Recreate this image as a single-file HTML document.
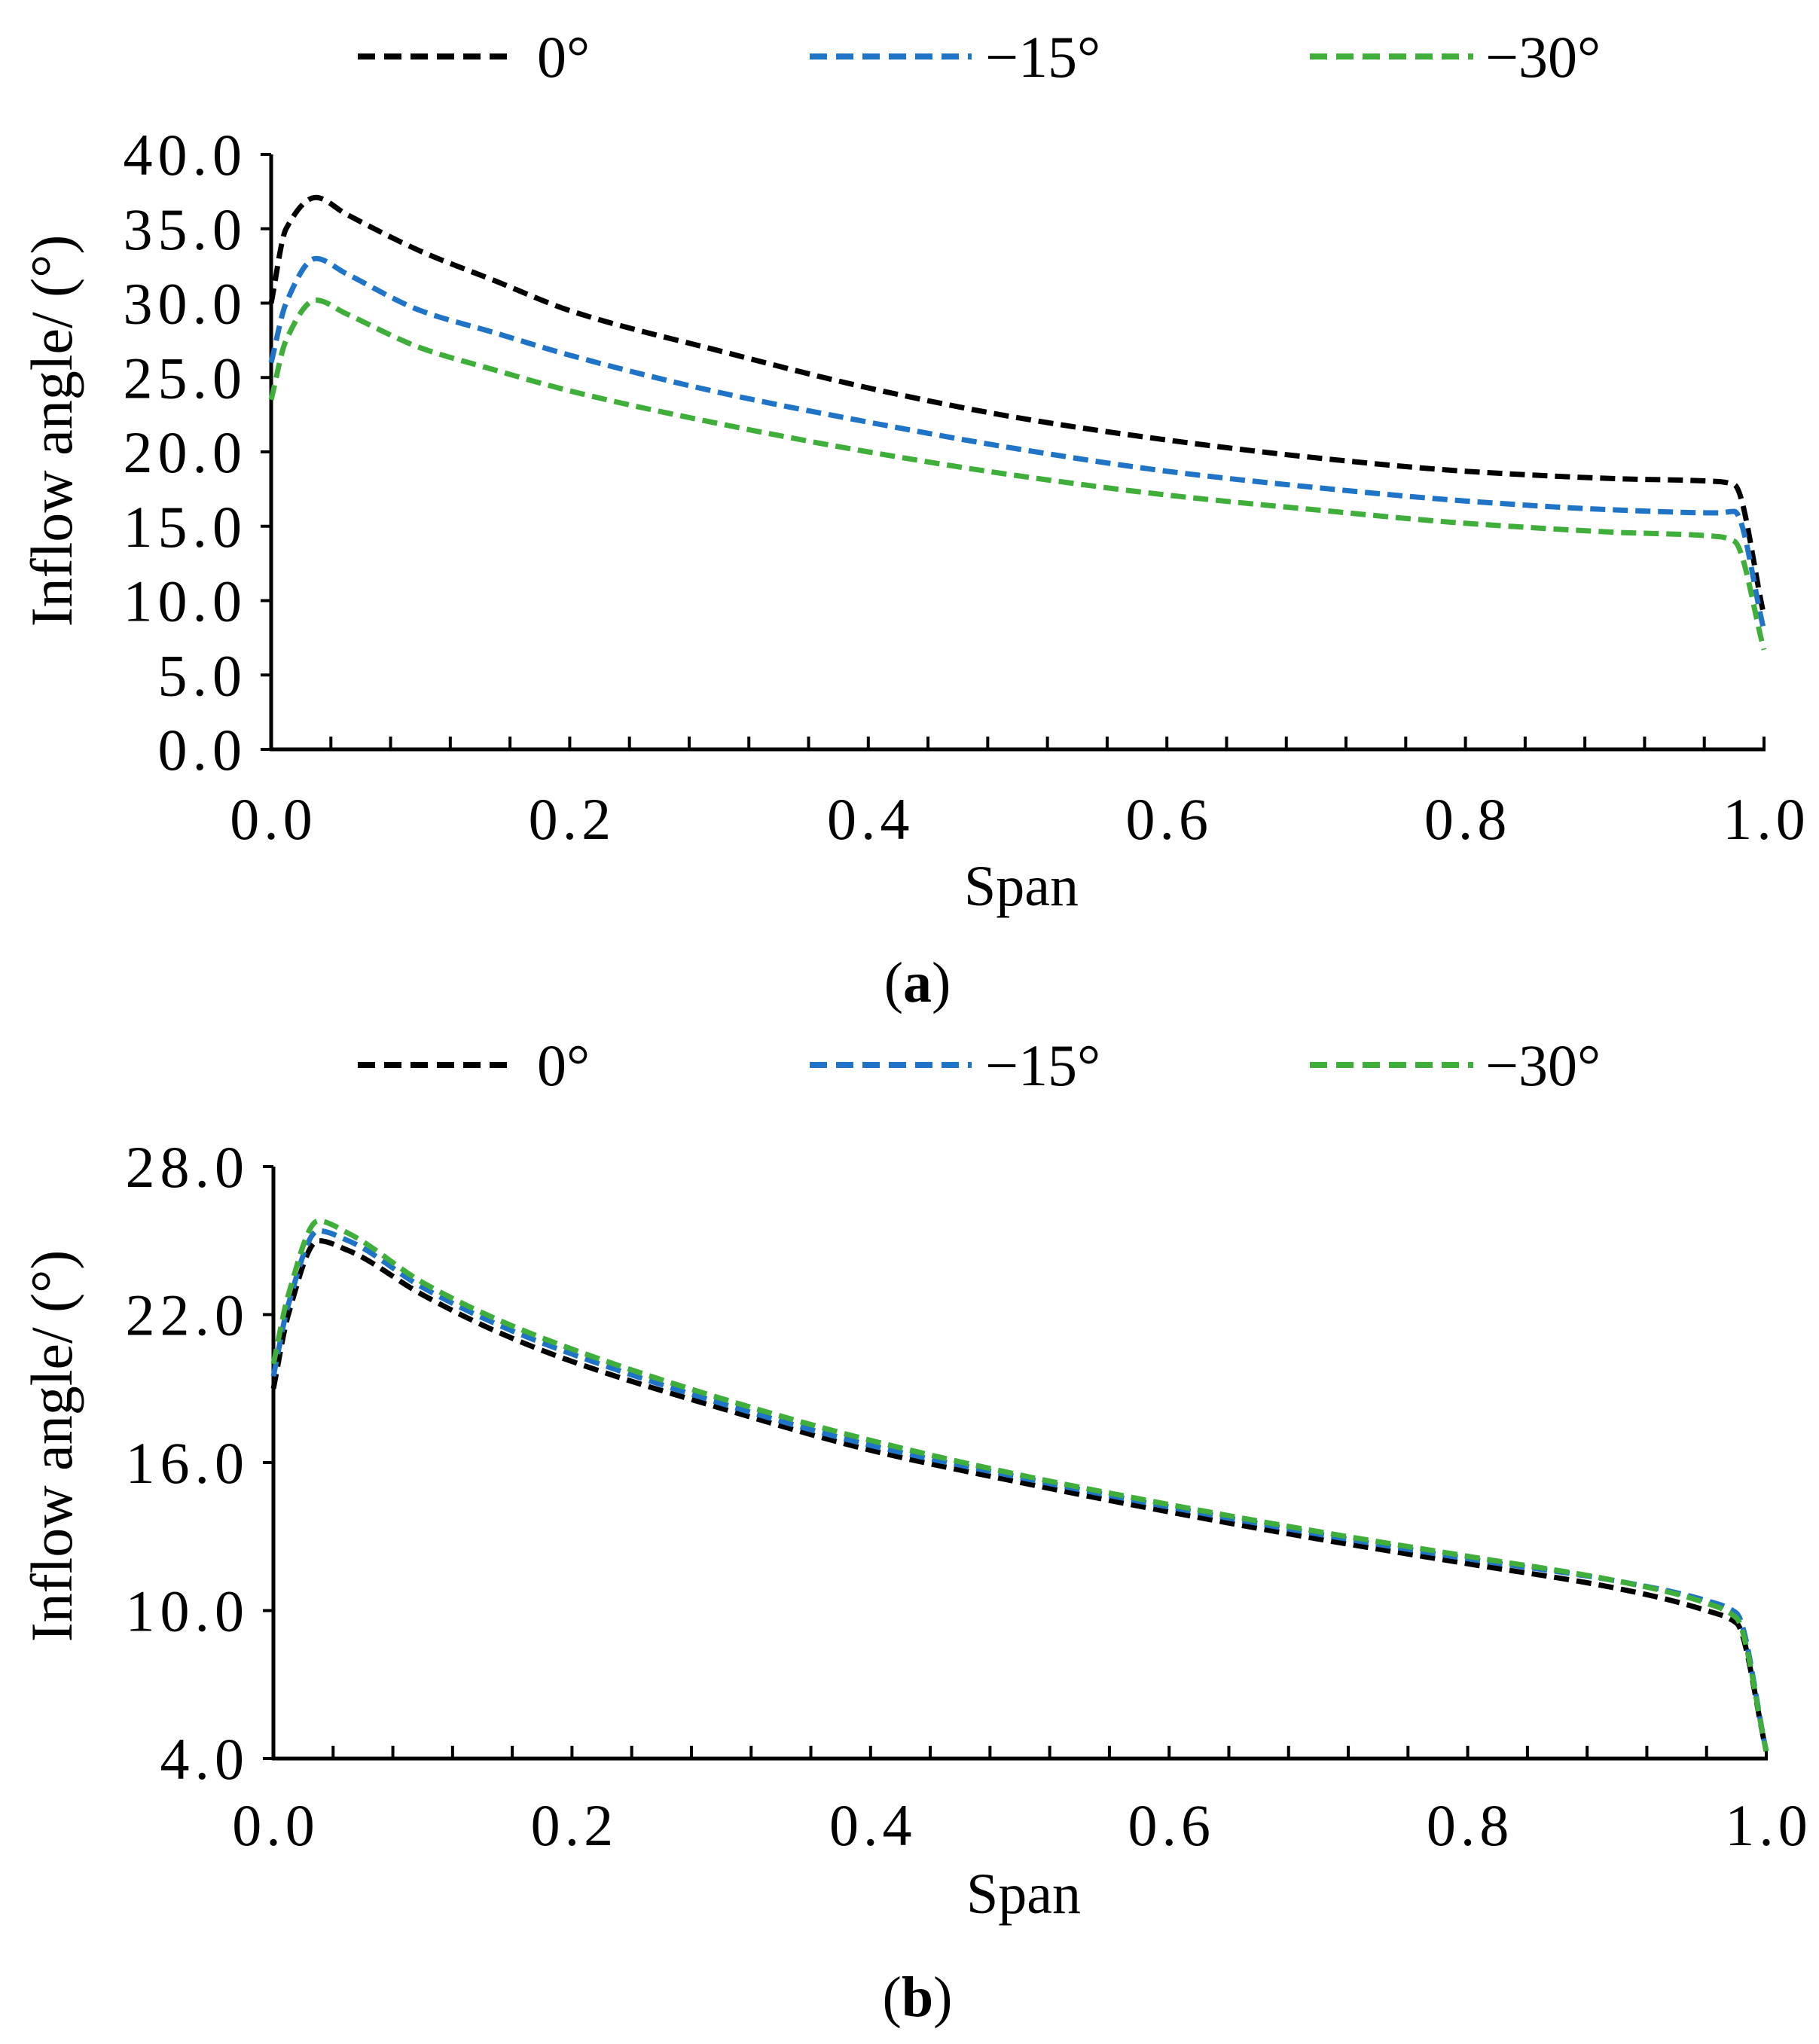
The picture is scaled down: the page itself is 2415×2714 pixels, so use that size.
<!DOCTYPE html>
<html><head><meta charset="utf-8"><style>
html,body{margin:0;padding:0;background:#fff;}
svg text{font-family:"Liberation Serif",serif;fill:#000;}
</style></head><body>
<svg id="chart" width="2415" height="2709" viewBox="0 0 2415 2709" xmlns="http://www.w3.org/2000/svg"></svg>
<script>
const spanX = [0,0.01,0.03,0.05,0.1,0.15,0.2,0.3,0.4,0.5,0.6,0.7,0.8,0.9,0.97,0.98,1.0];
const topBlack = [30,35,37.1,36,33.5,31.5,29.5,26.8,24.3,22.3,20.8,19.6,18.7,18.2,18,17.8,9];
const topBlue  = [26,30,33,32,29.5,28,26.5,24,22,20.2,18.7,17.6,16.7,16.1,15.9,16,8];
const topGreen = [23.5,27.5,30.2,29.3,27,25.5,24.1,21.9,20,18.4,17.1,16.1,15.2,14.6,14.3,14,6.7];
const botX = [0,0.01,0.03,0.05,0.1,0.15,0.2,0.3,0.4,0.5,0.6,0.7,0.8,0.9,0.96,0.98,1.0];
const botBlack = [19,22,25,24.6,22.8,21.3,20.1,18.2,16.5,15.2,14,12.9,11.9,10.9,10,9.5,4.3];
const botBlue  = [19.5,22.4,25.4,25,23.1,21.6,20.4,18.4,16.7,15.4,14.2,13.1,12.1,11.2,10.4,9.9,4.3];
const botGreen = [20,22.8,25.8,25.3,23.3,21.8,20.6,18.6,16.9,15.5,14.3,13.2,12.2,11.2,10.3,9.7,4.3];
const topYTicks = ["0.0","5.0","10.0","15.0","20.0","25.0","30.0","35.0","40.0"];
const botYTicks = ["4.0","10.0","16.0","22.0","28.0"];
const xTicks = ["0.0","0.2","0.4","0.6","0.8","1.0"];
const seriesNames = ["0°","−15°","−30°"];
const colors = ["#000000","#1f74c8","#3fae3a"];

const NS="http://www.w3.org/2000/svg";
const svg=document.getElementById('chart');
function mk(tag,attrs,parent,name,inter){const e=document.createElementNS(NS,tag);for(const k in attrs)e.setAttribute(k,attrs[k]);


(parent||svg).appendChild(e);return e;}

// monotone cubic (Fritsch-Carlson) path
function monoPath(pts){
  const n=pts.length, dx=[], m=[], tg=new Array(n);
  for(let i=0;i<n-1;i++){dx[i]=pts[i+1][0]-pts[i][0];m[i]=(pts[i+1][1]-pts[i][1])/dx[i];}
  tg[0]=m[0];tg[n-1]=m[n-2];
  for(let i=1;i<n-1;i++){ if(m[i-1]*m[i]<=0) tg[i]=0; else { tg[i]=3*(dx[i-1]+dx[i])/((2*dx[i]+dx[i-1])/m[i-1]+(dx[i]+2*dx[i-1])/m[i]); } }
  let d='M'+pts[0][0].toFixed(1)+','+pts[0][1].toFixed(1);
  for(let i=0;i<n-1;i++){
    const h=dx[i]/3;
    d+=' C'+(pts[i][0]+h).toFixed(1)+','+(pts[i][1]+tg[i]*h).toFixed(1)+' '+(pts[i+1][0]-h).toFixed(1)+','+(pts[i+1][1]-tg[i+1]*h).toFixed(1)+' '+pts[i+1][0].toFixed(1)+','+pts[i+1][1].toFixed(1);
  }
  return d;
}

function panel(cfg){
  const g=mk('g',{},svg,cfg.name,false);
  const x0=cfg.x0,x1=cfg.x1,yT=cfg.yTop,yB=cfg.yBot;
  const ymin=cfg.ymin,ymax=cfg.ymax;
  const sx=v=>x0+(v)*(x1-x0);
  const sy=v=>yB-(v-ymin)/(ymax-ymin)*(yB-yT);
  const leg=mk('g',{},g,'legend',false);
  const lx=[[475,682,713],[1075,1290,1308],[1739,1956,1972]];
  for(let i=0;i<3;i++){
    mk('line',{x1:lx[i][0],x2:lx[i][1],y1:cfg.legY,y2:cfg.legY,stroke:colors[i],'stroke-width':8,'stroke-dasharray':'23 12'},leg,'legend-swatch-'+i,false);
    const t=mk('text',{x:lx[i][2],y:cfg.legY+27,'font-size':78},leg,'legend-label-'+i,false);t.textContent=seriesNames[i];
  }
  mk('line',{x1:x0,x2:x0,y1:yT,y2:yB,stroke:'#000','stroke-width':5},g,'y-axis',false);
  mk('line',{x1:x0-2,x2:x1+2,y1:yB,y2:yB,stroke:'#000','stroke-width':5},g,'x-axis',false);
  cfg.yTicks.forEach(s=>{const v=parseFloat(s),y=sy(v);
    mk('line',{x1:x0-14,x2:x0,y1:y,y2:y,stroke:'#000','stroke-width':4},g,'y-tick',false);
    const t=mk('text',{x:x0-32,y:y+27,'font-size':78,'text-anchor':'end','letter-spacing':7},g,'y-tick-label',false);t.textContent=s;});
  for(let i=1;i<=25;i++){const x=sx(i/25);
    mk('line',{x1:x,x2:x,y1:yB,y2:yB-17,stroke:'#000','stroke-width':4},g,'x-minor-tick',false);}
  xTicks.forEach(s=>{const t=mk('text',{x:sx(parseFloat(s))+3,y:cfg.xLabY,'font-size':78,'text-anchor':'middle','letter-spacing':6},g,'x-tick-label',false);t.textContent=s;});
  const xt=mk('text',{x:(x0+x1)/2+5,y:cfg.xTitleY,'font-size':76,'text-anchor':'middle'},g,'x-axis-title',false);xt.textContent='Span';
  const yt=mk('text',{x:0,y:0,'font-size':78,'text-anchor':'middle','transform':`translate(95,${cfg.yTitleC}) rotate(-90)`},g,'y-axis-title',false);yt.textContent='Inflow angle/ (°)';
  const cap=mk('text',{x:1218,y:cfg.capY,'font-size':76,'text-anchor':'middle'},g,'panel-caption',false);
  cap.innerHTML='(<tspan font-weight="bold">'+cfg.cap+'</tspan>)';
  cfg.series.forEach((arr,i)=>{
    const pts=arr.map((v,j)=>[sx(cfg.xs[j]),sy(v)]);
    mk('path',{d:monoPath(pts),fill:'none',stroke:colors[i],'stroke-width':7,'stroke-dasharray':'20 10','stroke-linejoin':'round'},g,'series-'+['0deg','m15deg','m30deg'][i],false);
  });
}
panel({name:'panel-a',x0:360,x1:2342,yTop:205,yBot:995,ymin:0,ymax:40,yTicks:topYTicks,legY:75,xLabY:1114,xTitleY:1202,yTitleC:572,capY:1330,cap:'a',xs:spanX,series:[topBlack,topBlue,topGreen]});
panel({name:'panel-b',x0:363,x1:2345,yTop:1549,yBot:2335,ymin:4,ymax:28,yTicks:botYTicks,legY:1414,xLabY:2450,xTitleY:2540,yTitleC:1920,capY:2677,cap:'b',xs:botX,series:[botBlack,botBlue,botGreen]});
</script>
</body></html>
